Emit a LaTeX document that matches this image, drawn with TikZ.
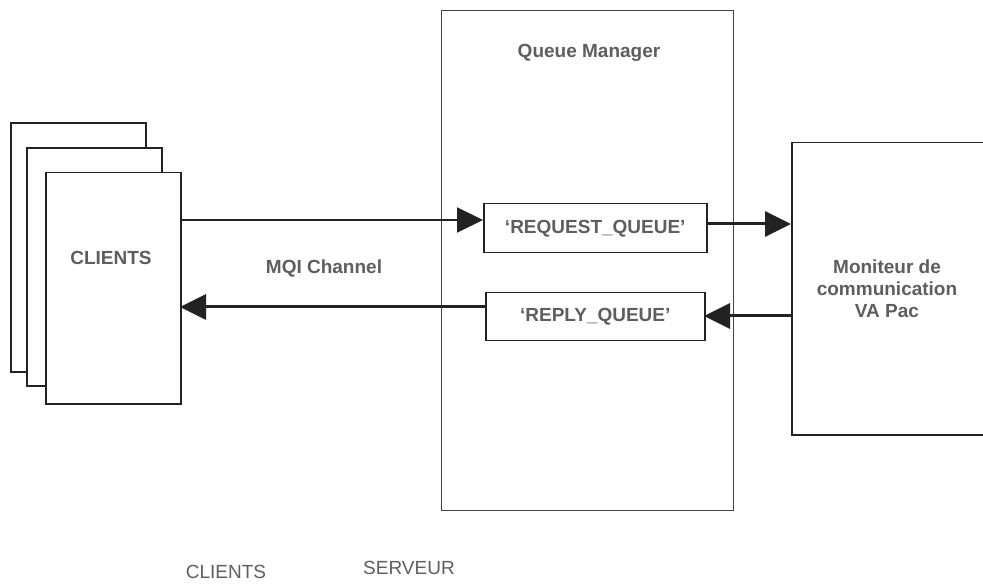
\documentclass[tikz,border=0pt]{standalone}
\usepackage{fontspec}
\setmainfont{Liberation Sans}
\usetikzlibrary{arrows.meta}
\definecolor{txtgray}{HTML}{5E5E5E}
\definecolor{linedark}{HTML}{222222}
\begin{document}
\begin{tikzpicture}[x=1pt,y=-1pt,
  boxline/.style={draw=linedark,line width=1.5pt,fill=white},
  lbl/.style={text=txtgray,font=\fontsize{19}{22}\selectfont\bfseries,align=center,inner sep=0pt},
  plainlbl/.style={text=txtgray,font=\fontsize{19}{22}\selectfont,inner sep=0pt},
  arr/.style={draw=linedark,line width=3pt,-{Triangle[length=26pt,width=25pt]}},
  thinarr/.style={draw=linedark,line width=2pt,-{Triangle[length=26pt,width=25pt]}}
]
\useasboundingbox (0,0) rectangle (983,585);
% client cards
\draw[boxline] (11,123) rectangle (146,372);
\draw[boxline] (27,148) rectangle (162,386);
\node[boxline,minimum width=135pt,minimum height=231pt,inner sep=0pt,anchor=north west] (clients) at (45,172) {};
\node[lbl] (clientslbl) at (111,258) {CLIENTS};
% queue manager
\node[draw=linedark!85,line width=1.2pt,minimum width=292pt,minimum height=500pt,inner sep=0pt,anchor=north west] (qm) at (441,10) {};
\node[lbl] (qmlbl) at (589,53) {Queue Manager};
% queues
\node[boxline,minimum width=223pt,minimum height=49pt,inner sep=0pt,anchor=north west] (req) at (483,203) {};
\node[lbl] at (req.center) {‘REQUEST\_QUEUE’};
\node[boxline,minimum width=219pt,minimum height=48pt,inner sep=0pt,anchor=north west] (rep) at (485,292) {};
\node[lbl] at (rep.center) {‘REPLY\_QUEUE’};
% monitor
\node[boxline,minimum width=196pt,minimum height=292pt,inner sep=0pt,anchor=north west] (mon) at (791,142) {};
\node[lbl] (monlbl) at (887,289) {Moniteur de\\communication\\VA Pac};
% channel label
\node[lbl] (mqi) at (324,268) {MQI Channel};
% arrows
\coordinate (c1) at (180,220);
\coordinate (r1) at (483,220);
\draw[thinarr] (c1) -- (r1);
\coordinate (r2) at (706,224);
\coordinate (m2) at (791,224);
\draw[arr] (r2) -- (m2);
\coordinate (m3) at (791,316);
\coordinate (p3) at (704,316);
\draw[arr] (m3) -- (p3);
\coordinate (p4) at (485,307);
\coordinate (c4) at (180,307);
\draw[arr] (p4) -- (c4);
% bottom labels
\node[plainlbl] (botc) at (226,572) {CLIENTS};
\node[plainlbl] (bots) at (409,568) {SERVEUR};
\end{tikzpicture}
\end{document}
